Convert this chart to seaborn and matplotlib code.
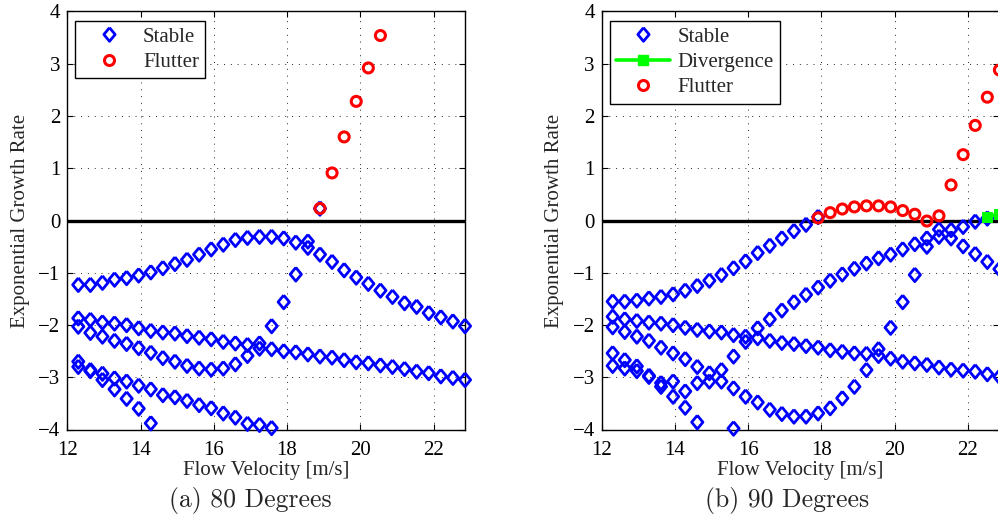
import matplotlib
matplotlib.use("Agg")
import numpy as np
import pandas as pd
import matplotlib.pyplot as plt
from matplotlib.lines import Line2D
import seaborn as sns

# Flow velocities [m/s] at which the eigenvalues were computed
velocity = [12.30, 12.63, 12.96, 13.29, 13.62, 13.95, 14.28, 14.61, 14.94, 15.27,
            15.60, 15.93, 16.26, 16.59, 16.92, 17.25, 17.58, 17.91, 18.24, 18.57,
            18.90, 19.23, 19.56, 19.89, 20.22, 20.55, 20.88, 21.21, 21.54, 21.87,
            22.20, 22.53, 22.86]

N = None

# ---- 80 degrees: growth rates of the stable modes ----
deg80_mode1 = [-1.23, -1.23, -1.19, -1.13, -1.10, -1.05, -0.99, -0.91, -0.83, -0.75,
               -0.65, -0.55, -0.46, -0.37, -0.33, -0.31, -0.31, -0.34, -0.42, -0.52,
               -0.65, -0.79, -0.95, -1.09, -1.21, -1.34, -1.46, -1.58, -1.65, -1.77,
               -1.85, -1.93, -2.02]
deg80_mode2 = [-1.87, -1.90, -1.95, -1.97, -2.00, -2.06, -2.11, -2.14, -2.16, -2.21,
               -2.24, -2.27, -2.32, -2.35, -2.38, -2.45, -2.46, -2.50, -2.52, -2.56,
               -2.60, -2.62, -2.67, -2.71, -2.73, -2.77, -2.80, -2.84, -2.89, -2.92,
               -2.98, -3.01, -3.05]
deg80_mode3 = [-2.03, -2.15, -2.22, -2.30, -2.36, -2.44, -2.53, -2.63, -2.70, -2.78,
               -2.83, -2.85, -2.83, -2.75, -2.59, -2.35, -2.02, -1.56, -1.03, -0.40,
               0.23, N, N, N, N, N, N, N, N, N, N, N, N]
deg80_mode4 = [-2.70, -2.86, -2.93, -3.02, -3.08, -3.16, -3.23, -3.34, -3.38, -3.45,
               -3.53, -3.59, -3.69, -3.77, -3.89, -3.91, -3.97,
               N, N, N, N, N, N, N, N, N, N, N, N, N, N, N, N]
deg80_mode5 = [-2.80, -2.88, -3.05, -3.23, -3.41, -3.60, -3.88,
               N, N, N, N, N, N, N, N, N, N, N, N, N, N, N, N, N, N, N, N, N, N, N, N, N, N]
# flutter branch (80 degrees)
deg80_flutter = [N] * 20 + [0.23, 0.91, 1.60, 2.28, 2.92, 3.54] + [N] * 7

# ---- 90 degrees: growth rates of the stable modes ----
deg90_mode1 = [-1.55, -1.55, -1.53, -1.49, -1.46, -1.41, -1.34, -1.25, -1.15, -1.04,
               -0.91, -0.78, -0.62, -0.48, -0.34, -0.20, -0.08, 0.07,
               N, N, N, N, N, N, N, N, N, N, N, N, N, N, N]
deg90_mode2 = [-1.84, -1.89, -1.92, -1.95, -1.97, -2.00, -2.05, -2.09, -2.12, -2.14,
               -2.19, -2.22, -2.25, -2.30, -2.34, -2.36, -2.40, -2.43, -2.48, -2.51,
               -2.54, -2.55, -2.59, -2.64, -2.70, -2.73, -2.76, -2.81, -2.85, -2.87,
               -2.89, -2.94, -2.99]
deg90_mode3 = [-2.04, -2.13, -2.22, -2.30, -2.43, -2.54, -2.65, -2.80, -2.92, -2.86,
               -2.60, -2.32, -2.06, -1.89, -1.72, -1.56, -1.42, -1.28, -1.15, -1.03,
               -0.92, -0.82, -0.72, -0.65, -0.55, -0.45, -0.34, -0.17, -0.18, -0.12,
               -0.02, 0.04, N]
deg90_mode4 = [-2.54, -2.67, -2.79, -2.97, -3.11, -3.08, -3.27, -3.11, -3.08, -3.08,
               -3.21, -3.37, -3.48, -3.62, -3.70, -3.75, -3.75, -3.69, -3.59, -3.40,
               -3.18, -2.86, -2.46, -2.05, -1.56, -1.04, -0.50, -0.31, -0.34, -0.49,
               -0.64, -0.79, -0.93]
deg90_mode5 = [-2.78, -2.83, -2.88, -2.99, -3.18, -3.37, -3.58, -3.86,
               N, N, -3.98, N, N, N, N, N, N, N, N, N, N, N, N, N, N, N, N, N, N, N, N, N, N]
# flutter and divergence branches (90 degrees)
deg90_flutter = [N] * 17 + [0.05, 0.15, 0.22, 0.26, 0.28, 0.28, 0.26, 0.19, 0.12, -0.01,
                            0.09, 0.68, 1.26, 1.82, 2.36, 2.88]
deg90_divergence = [N] * 31 + [0.07, 0.13]

x_ticks = [12, 14, 16, 18, 20, 22]
y_ticks = [-4, -3, -2, -1, 0, 1, 2, 3, 4]
captions = ["(a) 80 Degrees", "(b) 90 Degrees"]


def long_form(series, kind):
    rows = []
    for values in series:
        for v, g in zip(velocity, values):
            if g is not None:
                rows.append({"velocity": v, "rate": g, "kind": kind})
    return rows


panels = [
    {
        "stable": [deg80_mode1, deg80_mode2, deg80_mode3, deg80_mode4, deg80_mode5],
        "flutter": deg80_flutter,
        "divergence": None,
    },
    {
        "stable": [deg90_mode1, deg90_mode2, deg90_mode3, deg90_mode4, deg90_mode5],
        "flutter": deg90_flutter,
        "divergence": deg90_divergence,
    },
]

sns.set_style("ticks")
plt.rcParams["font.family"] = ["Liberation Serif", "DejaVu Serif"]
plt.rcParams["axes.unicode_minus"] = True

BLUE = (0, 0, 1)
RED = (1, 0, 0)
GREEN = (0, 1, 0)
diamond = [(0, 1), (0.83, 0), (0, -1), (-0.83, 0), (0, 1)]
FS = 15
D_SIZE = 9.8      # diamond height in points
D_EDGE = 2.0
O_SIZE = 7.2      # circle diameter in points
O_EDGE = 2.2

fig = plt.figure(figsize=(9.98, 5.2), dpi=100)
ax_w = 397.7 / 998
ax_h = 418.0 / 520
ax_b = (520 - 429.5) / 520
axes = [fig.add_axes([67.3 / 998, ax_b, ax_w, ax_h]),
        fig.add_axes([601.7 / 998, ax_b, ax_w, ax_h])]

for ax, panel, cap, cx in zip(axes, panels, captions, [250, 787]):
    stable = pd.DataFrame(long_form(panel["stable"], "Stable"))
    flutter = pd.DataFrame(long_form([panel["flutter"]], "Flutter"))

    ax.axhline(0, color="black", lw=2.4, zorder=2.5)

    sns.scatterplot(data=stable, x="velocity", y="rate", ax=ax, marker=diamond,
                    s=D_SIZE ** 2, facecolors="none", edgecolor=BLUE,
                    linewidth=D_EDGE, legend=False, clip_on=False, zorder=3)
    if panel["divergence"] is not None:
        div = pd.DataFrame(long_form([panel["divergence"]], "Divergence"))
        sns.lineplot(data=div, x="velocity", y="rate", ax=ax, color=GREEN, lw=2.6,
                     marker="s", markersize=7, markeredgecolor=GREEN,
                     estimator=None, sort=True, legend=False, clip_on=False,
                     zorder=3.5)
    sns.scatterplot(data=flutter, x="velocity", y="rate", ax=ax, marker="o",
                    s=O_SIZE ** 2, facecolors="none", edgecolor=RED,
                    linewidth=O_EDGE, legend=False, clip_on=False, zorder=4)

    ax.set_xlim(12, 22.86)
    ax.set_ylim(-4, 4)
    ax.set_xticks(x_ticks)
    ax.set_yticks(y_ticks)
    ax.grid(True, color="0.15", linestyle=(0, (1, 6)), linewidth=0.7)
    ax.set_axisbelow(True)
    ax.tick_params(axis="x", pad=8)
    ax.tick_params(axis="y", pad=5)
    ax.tick_params(direction="in", top=True, right=True, length=4, width=0.8,
                   labelsize=FS, colors="black")
    for sp in ax.spines.values():
        sp.set_visible(True)
        sp.set_linewidth(1.0)
        sp.set_color("black")
    ax.set_xlabel("Flow Velocity [m/s]", fontsize=FS, labelpad=1)
    ax.set_ylabel("Exponential Growth Rate", fontsize=FS, labelpad=6)

    handles = [Line2D([], [], ls="none", marker=diamond, ms=D_SIZE, mec=BLUE,
                      mfc="none", mew=D_EDGE)]
    labels = ["Stable"]
    if panel["divergence"] is not None:
        handles.append(Line2D([], [], color=GREEN, lw=2.6, marker="s", ms=7,
                              mec=GREEN, mfc=GREEN))
        labels.append("Divergence")
    handles.append(Line2D([], [], ls="none", marker="o", ms=O_SIZE, mec=RED,
                          mfc="none", mew=O_EDGE))
    labels.append("Flutter")
    leg = ax.legend(handles, labels, loc="upper left", bbox_to_anchor=(0.02, 0.978),
                    borderaxespad=0, fontsize=FS, frameon=True, fancybox=False,
                    framealpha=1, edgecolor="black", handlelength=2.6,
                    handletextpad=0.35, labelspacing=0.28, borderpad=0.3,
                    numpoints=1)
    leg.get_frame().set_linewidth(1.0)
    leg.set_zorder(6)

    fig.text(cx / 998, 1 - 500 / 520, cap, family="cmr10", fontsize=18.5,
             ha="center", va="center")

fig.savefig("out.png", dpi=100)
